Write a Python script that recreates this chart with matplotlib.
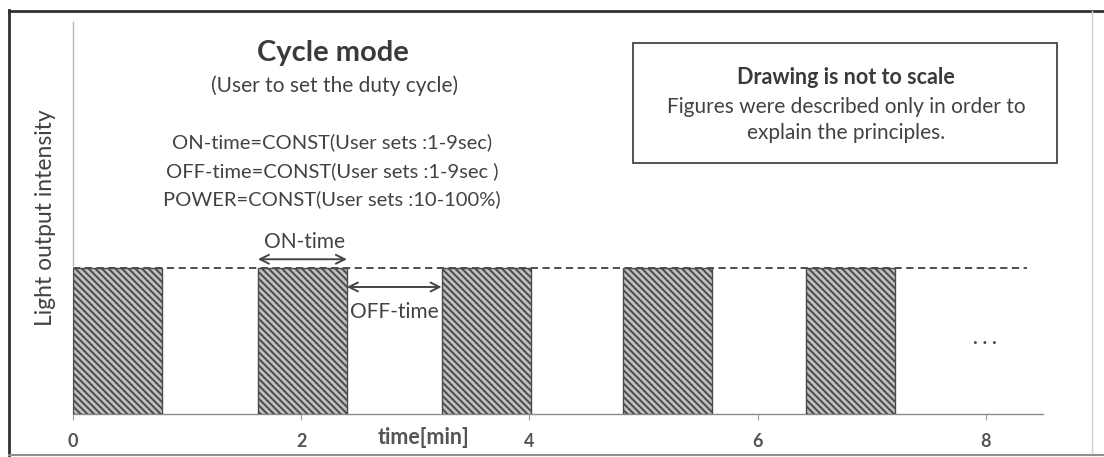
import matplotlib
matplotlib.use("Agg")
import matplotlib.pyplot as plt
from matplotlib.lines import Line2D
from matplotlib.patches import Rectangle

# ---- data ----
on_starts = [0.0, 1.62, 3.23, 4.82, 6.42]     # ON periods start [min]
on_width = 0.78                                 # ON-time duration [min]
power_level = 1.0                               # constant light output
xticks = [0, 2, 4, 6, 8]
xtick_labels = ["0", "2", "4", "6", "8"]

plt.rcParams['font.family'] = ['Lato', 'DejaVu Sans']
plt.rcParams['hatch.linewidth'] = 1.4
plt.rcParams['hatch.color'] = '#383838'

W, H = 1104, 457
fig = plt.figure(figsize=(W / 100, H / 100), dpi=100)

def fx(x):
    return x / W

def fy(y):
    return 1 - y / H

TXT = '#424242'

# axes
ax = fig.add_axes([fx(73), fy(414), fx(1043) - fx(73), fy(22) - fy(414)])
ax.set_xlim(0, 8.5)
ax.set_ylim(0, 2.685)

ax.bar(on_starts, [power_level] * len(on_starts), width=on_width, align='edge',
       facecolor='#c0c0c0', edgecolor='#4a4a4a', hatch='\\\\\\\\\\', linewidth=1.0, zorder=3)

# dashed reference line at the power level
ax.plot([0, 8.36], [power_level, power_level], ls=(0, (4, 2.5)), color='#404040',
        lw=1.3, zorder=2)

# spines
for s in ['top', 'right']:
    ax.spines[s].set_visible(False)
ax.spines['left'].set_color('#b8b8b8')
ax.spines['left'].set_linewidth(1.0)
ax.spines['bottom'].set_color('#8a8a8a')
ax.spines['bottom'].set_linewidth(1.0)
ax.set_yticks([])
ax.set_xticks(xticks)
ax.set_xticklabels(xtick_labels, fontsize=13, fontweight='bold', color='#555555')
ax.tick_params(axis='x', length=4, color='#a0a0a0', pad=10)

ax.set_ylabel("Light output intensity", fontsize=16.5, color=TXT, labelpad=12)

# arrows ON-time / OFF-time
b2_start = on_starts[1]
b2_end = on_starts[1] + on_width
b3_start = on_starts[2]
arrow_kw = dict(arrowstyle='<->', color='#454545', lw=1.4, mutation_scale=16,
                shrinkA=0, shrinkB=0)
ax.annotate('', xy=(b2_start, 1.06), xytext=(b2_end, 1.06), arrowprops=arrow_kw, zorder=5)
ax.annotate('', xy=(b2_end, 0.87), xytext=(b3_start, 0.87), arrowprops=arrow_kw, zorder=5)
ax.text((b2_start + b2_end) / 2 + 0.02, 1.18, "ON-time", ha='center', va='center',
        fontsize=15, color=TXT)
ax.text((b2_end + b3_start) / 2, 0.70, "OFF-time", ha='center', va='center',
        fontsize=15, color=TXT, zorder=6,
        bbox=dict(facecolor='white', edgecolor='none', pad=0.5))

# "..." continuation
ax.text(7.99, 0.52, ". . .", ha='center', va='center', fontsize=14, color='#444444',
        fontweight='bold')

# x-axis label
fig.text(fx(423), fy(438), "time[min]", ha='center', va='center', fontsize=15.5,
         fontweight='bold', color='#555555')

# titles
fig.text(fx(333), fy(53), "Cycle mode", ha='center', va='center', fontsize=21,
         fontweight='bold', color='#3a3a3a')
fig.text(fx(335), fy(86), "(User to set the duty cycle)", ha='center', va='center',
         fontsize=15, color=TXT)
fig.text(fx(332), fy(142), "ON-time=CONST(User sets :1-9sec)", ha='center', va='center',
         fontsize=14.5, color=TXT)
fig.text(fx(332), fy(171), "OFF-time=CONST(User sets :1-9sec )", ha='center', va='center',
         fontsize=14.5, color=TXT)
fig.text(fx(332), fy(199), "POWER=CONST(User sets :10-100%)", ha='center', va='center',
         fontsize=14.5, color=TXT)

# note box
fig.add_artist(Rectangle((fx(633), fy(163)), fx(1057) - fx(633), fy(43) - fy(163),
                         transform=fig.transFigure, facecolor='white',
                         edgecolor='#454545', lw=1.3))
fig.text(fx(846), fy(77), "Drawing is not to scale", ha='center', va='center',
         fontsize=15.5, fontweight='bold', color='#3a3a3a')
fig.text(fx(846), fy(107), "Figures were described only in order to", ha='center',
         va='center', fontsize=15, color=TXT)
fig.text(fx(846), fy(133), "explain the principles.", ha='center', va='center',
         fontsize=15, color=TXT)

# outer frame
fig.add_artist(Line2D([fx(9), fx(9)], [fy(10), fy(455)], transform=fig.transFigure,
                      color='#303030', lw=2.0))
fig.add_artist(Line2D([fx(9), fx(1104)], [fy(11), fy(11)], transform=fig.transFigure,
                      color='#303030', lw=2.0))
fig.add_artist(Line2D([fx(1092), fx(1092)], [fy(11), fy(455)], transform=fig.transFigure,
                      color='#d0d0d0', lw=1.0))
fig.add_artist(Line2D([fx(9), fx(1104)], [fy(455), fy(455)], transform=fig.transFigure,
                      color='#909090', lw=1.5))

fig.savefig("out.png", dpi=100)
